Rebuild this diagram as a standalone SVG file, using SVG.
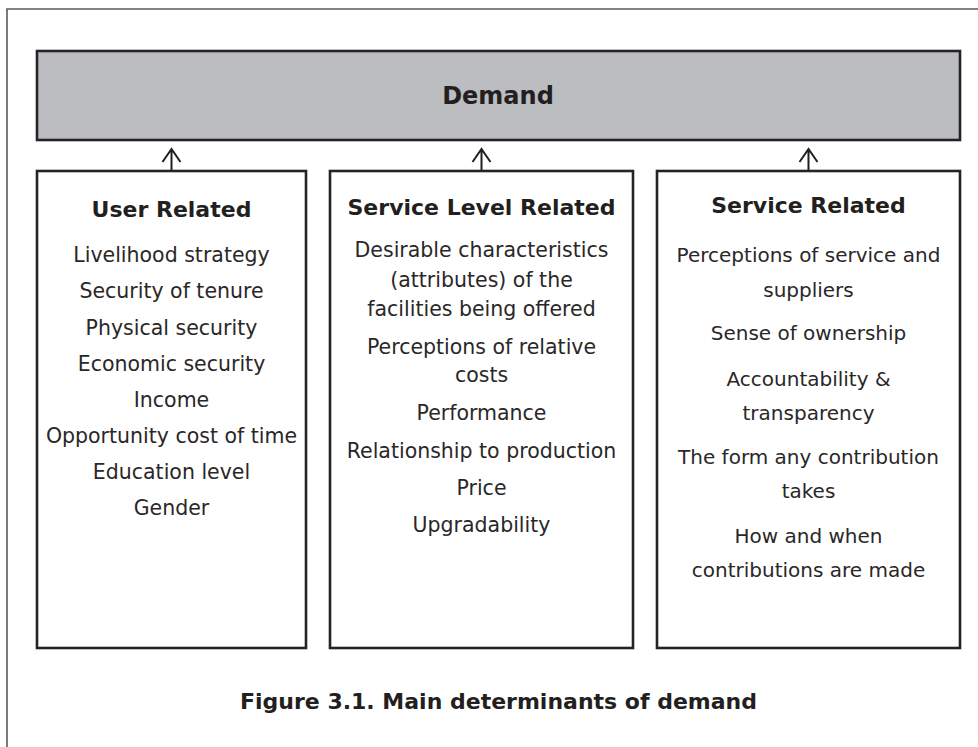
<svg xmlns="http://www.w3.org/2000/svg" width="978" height="747" viewBox="0 0 978 747">
<style>
.frame{stroke:#5a5a5a;stroke-width:1.6;fill:none}
.box{fill:#ffffff;stroke:#262324;stroke-width:2.6}
.demand{fill:#bcbdc0;stroke:#262324;stroke-width:2.6}
.conn{stroke:#231f20;stroke-width:2;fill:none}
.head{font-family:"DejaVu Sans",sans-serif;font-weight:bold;font-size:22px;fill:#231f20;text-anchor:middle}
.title{font-family:"DejaVu Sans",sans-serif;font-weight:bold;font-size:24px;fill:#231f20;text-anchor:middle}
.body{font-family:"DejaVu Sans",sans-serif;font-size:20.5px;fill:#2a2728;text-anchor:middle}
.body2{font-family:"DejaVu Sans",sans-serif;font-size:20px;fill:#2a2728;text-anchor:middle}
</style>
<defs>
<marker id="ah" markerWidth="12" markerHeight="10" refX="6" refY="1" orient="auto-start-reverse" markerUnits="userSpaceOnUse" viewBox="0 0 12 10" overflow="visible">
</marker>
</defs>
<rect width="978" height="747" fill="#ffffff"/>
<path class="frame" d="M7,747 V9 H978"/>
<g id="demand">
<rect class="demand" x="37" y="51" width="923" height="89"/>
<text class="title" x="498" y="104">Demand</text>
</g>
<g id="connectors">
<path class="conn" d="M171.5,171 V149 M162.5,162 L171.5,149 L180.5,162"/>
<path class="conn" d="M481.5,171 V149 M472.5,162 L481.5,149 L490.5,162"/>
<path class="conn" d="M808.5,171 V149 M799.5,162 L808.5,149 L817.5,162"/>
</g>
<g id="user-related">
<rect class="box" x="37" y="171" width="269" height="477"/>
<text class="head" x="171.5" y="216.5">User Related</text>
<text class="body" x="171.5" y="262">Livelihood strategy</text>
<text class="body" x="171.5" y="298">Security of tenure</text>
<text class="body" x="171.5" y="334.5">Physical security</text>
<text class="body" x="171.5" y="371">Economic security</text>
<text class="body" x="171.5" y="407">Income</text>
<text class="body" x="171.5" y="443">Opportunity cost of time</text>
<text class="body" x="171.5" y="478.5">Education level</text>
<text class="body" x="171.5" y="514.5">Gender</text>
</g>
<g id="service-level-related">
<rect class="box" x="330" y="171" width="303" height="477"/>
<text class="head" x="481.5" y="215">Service Level Related</text>
<text class="body" x="481.5" y="257">Desirable characteristics</text>
<text class="body" x="481.5" y="286.5">(attributes) of the</text>
<text class="body" x="481.5" y="316">facilities being offered</text>
<text class="body" x="481.5" y="353.5">Perceptions of relative</text>
<text class="body" x="481.5" y="382">costs</text>
<text class="body" x="481.5" y="420">Performance</text>
<text class="body" x="481.5" y="457.5">Relationship to production</text>
<text class="body" x="481.5" y="494.5">Price</text>
<text class="body" x="481.5" y="532">Upgradability</text>
</g>
<g id="service-related">
<rect class="box" x="657" y="171" width="303" height="477"/>
<text class="head" x="808.5" y="213">Service Related</text>
<text class="body2" x="808.5" y="262">Perceptions of service and</text>
<text class="body2" x="808.5" y="296.5">suppliers</text>
<text class="body2" x="808.5" y="340">Sense of ownership</text>
<text class="body2" x="808.5" y="385.5">Accountability &amp;</text>
<text class="body2" x="808.5" y="419.5">transparency</text>
<text class="body2" x="808.5" y="463.5">The form any contribution</text>
<text class="body2" x="808.5" y="498">takes</text>
<text class="body2" x="808.5" y="542.5">How and when</text>
<text class="body2" x="808.5" y="576.5">contributions are made</text>
</g>
<g id="caption">
<text class="head" x="498.5" y="709">Figure 3.1. Main determinants of demand</text>
</g>
</svg>
